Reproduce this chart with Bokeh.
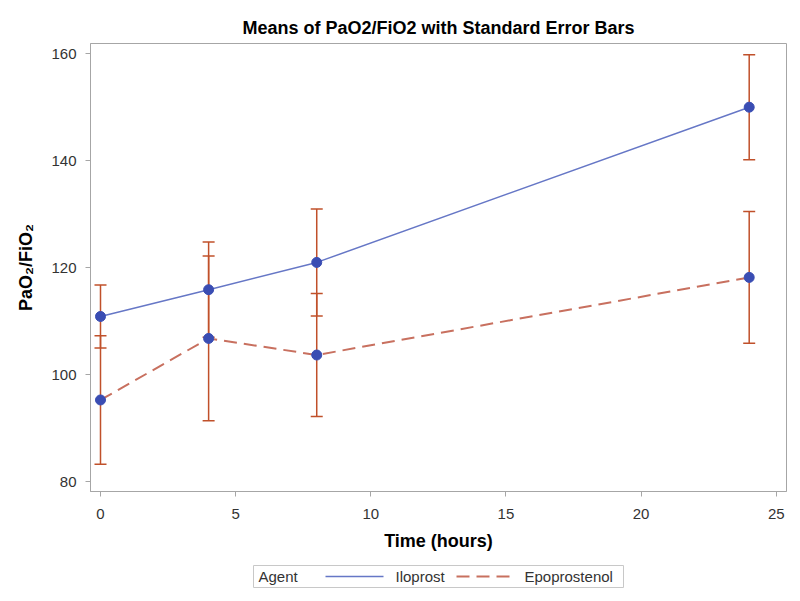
from bokeh.plotting import figure
from bokeh.models import ColumnDataSource, Whisker, TeeHead, Range1d
from bokeh.layouts import column
from bokeh.core.properties import value
from bokeh.embed import file_html
from bokeh.resources import INLINE

# ---- data ----
time_hours = [0, 4, 8, 24]
iloprost_mean = [110.9, 115.9, 121.0, 150.0]
iloprost_se = [5.9, 8.9, 10.0, 9.8]
epoprostenol_mean = [95.3, 106.8, 103.7, 118.2]
epoprostenol_se = [12.0, 15.4, 11.5, 12.3]
x_ticks = [0, 5, 10, 15, 20, 25]
y_ticks = [80, 100, 120, 140, 160]
legend_title = "Agent"
agents = ["Iloprost", "Epoprostenol"]

FONT = "Liberation Sans"
BLUE_LINE = "#6677c6"
DOT = "#3a4db3"
ERR = "#c0502a"
RED_LINE = "#c8705f"
AXIS = "#a6a6a6"
DASH = "13 7"

p = figure(width=800, height=563, output_backend="svg", toolbar_location=None,
           x_range=Range1d(-0.37, 25.38), y_range=Range1d(78.2, 161.9),
           min_border_left=90, min_border_right=14, min_border_top=43, min_border_bottom=72)

p.title.text = "Means of PaO2/FiO2 with Standard Error Bars"
p.title.align = "center"
p.title.text_font = FONT
p.title.text_font_size = "18px"
p.title.text_font_style = "bold"
p.title.text_color = "black"
p.title.standoff = 12

p.xgrid.visible = False
p.ygrid.visible = False
p.outline_line_color = AXIS
p.background_fill_color = "white"
p.border_fill_color = "white"

for ax in (p.xaxis[0], p.yaxis[0]):
    ax.axis_line_color = AXIS
    ax.major_tick_line_color = AXIS
    ax.major_tick_out = 5
    ax.major_tick_in = 0
    ax.minor_tick_line_color = None
    ax.major_label_text_font = FONT
    ax.major_label_text_font_size = "15px"
    ax.major_label_text_color = "#333333"
    ax.axis_label_text_font = FONT
    ax.axis_label_text_font_size = "18px"
    ax.axis_label_text_font_style = "bold"
    ax.axis_label_text_color = "black"

p.xaxis.ticker = x_ticks
p.yaxis.ticker = y_ticks
p.xaxis.axis_label = "Time (hours)"
p.yaxis.axis_label = "PaO₂/FiO₂"
p.xaxis.major_label_standoff = 12
p.xaxis.axis_label_standoff = 9
p.yaxis.major_label_standoff = 9
p.yaxis.axis_label_standoff = 12

ilo_src = ColumnDataSource(dict(
    x=time_hours, y=iloprost_mean,
    upper=[m + s for m, s in zip(iloprost_mean, iloprost_se)],
    lower=[m - s for m, s in zip(iloprost_mean, iloprost_se)]))
epo_src = ColumnDataSource(dict(
    x=time_hours, y=epoprostenol_mean,
    upper=[m + s for m, s in zip(epoprostenol_mean, epoprostenol_se)],
    lower=[m - s for m, s in zip(epoprostenol_mean, epoprostenol_se)]))

p.line("x", "y", source=ilo_src, line_color=BLUE_LINE, line_width=1.5)
p.line("x", "y", source=epo_src, line_color=RED_LINE, line_width=2, line_dash=DASH)

for src in (ilo_src, epo_src):
    w = Whisker(base="x", upper="upper", lower="lower", source=src,
                line_color=ERR, line_width=1.5,
                upper_head=TeeHead(size=12, line_color=ERR, line_width=1.5),
                lower_head=TeeHead(size=12, line_color=ERR, line_width=1.5))
    p.add_layout(w)

p.scatter("x", "y", source=ilo_src, size=10, fill_color=DOT, line_color=DOT)
p.scatter("x", "y", source=epo_src, size=10, fill_color=DOT, line_color=DOT)

# ---- legend strip: small figure with the same horizontal frame, 1 unit = 1 px ----
lg = figure(width=800, height=37, output_backend="svg", toolbar_location=None,
            x_range=Range1d(0, 696), y_range=Range1d(-2, 24),
            min_border_left=90, min_border_right=14, min_border_top=0, min_border_bottom=11)
lg.xaxis.visible = False
lg.yaxis.visible = False
lg.xgrid.visible = False
lg.ygrid.visible = False
lg.outline_line_color = None
lg.border_fill_color = "white"

lg.quad(left=[163], right=[533], bottom=[0], top=[22], fill_color="white",
        line_color="#c8c8c8", line_width=1)
lg.text(x=[168], y=[11], text=[legend_title], text_font=value(FONT), text_font_size="15px",
        text_color="#333333", text_baseline="middle")
lg.line(x=[235, 293], y=[11, 11], line_color=BLUE_LINE, line_width=1.5)
lg.text(x=[305], y=[11], text=[agents[0]], text_font=value(FONT), text_font_size="15px",
        text_color="#333333", text_baseline="middle")
lg.line(x=[366, 422], y=[11, 11], line_color=RED_LINE, line_width=2, line_dash=DASH)
lg.text(x=[434], y=[11], text=[agents[1]], text_font=value(FONT), text_font_size="15px",
        text_color="#333333", text_baseline="middle")

layout = column(p, lg, spacing=0)
open("out.html", "w").write(file_html(layout, INLINE))
